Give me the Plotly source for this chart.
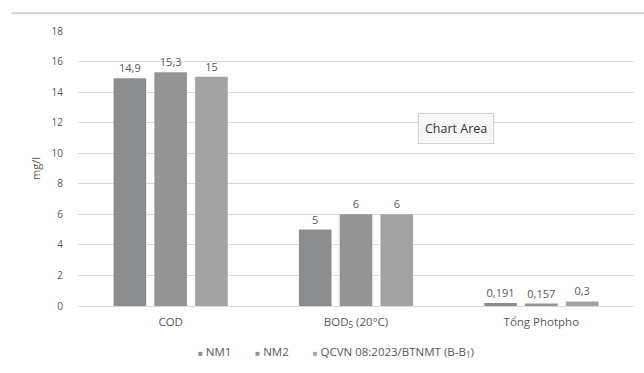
import plotly.graph_objects as go

# Water-quality parameters and measured values (mg/l)
categories = ["COD", "BOD<sub>5</sub> (20°C)", "Tổng Photpho"]
nm1 = [14.9, 5, 0.191]
nm2 = [15.3, 6, 0.157]
qcvn = [15, 6, 0.3]
series_names = ["NM1", "NM2", "QCVN 08:2023/BTNMT (B-B<sub>1</sub>)"]
series_colors = ["#8b8c8e", "#949495", "#a3a3a4"]
y_ticks = [0, 2, 4, 6, 8, 10, 12, 14, 16, 18]

FONT = "Open Sans, Lato, sans-serif"
TXT = "#595959"


def fmt(v):
    # decimal comma, as in Vietnamese notation
    return f"{v:g}".replace(".", ",")


fig = go.Figure()
for name, vals, col in zip(series_names, [nm1, nm2, qcvn], series_colors):
    fig.add_trace(go.Bar(
        x=categories, y=vals, name=name,
        marker=dict(color=col, line=dict(width=0)),
        text=[fmt(v) for v in vals],
        textposition="outside",
        textfont=dict(family=FONT, size=11, color=TXT),
        cliponaxis=False,
        showlegend=False,
    ))

fig.update_layout(
    width=644, height=373,
    margin=dict(l=78, r=10, t=31, b=67),
    paper_bgcolor="white", plot_bgcolor="white",
    font=dict(family=FONT, size=10, color=TXT),
    barmode="group", bargap=0.34, bargroupgap=0.2,
    xaxis=dict(showgrid=False, showline=True, linecolor="#d9d9d9", linewidth=1,
               ticks="", ticklabelstandoff=5, tickfont=dict(size=11.5, color=TXT)),
    yaxis=dict(range=[0, 18], tickvals=y_ticks, showgrid=True, gridcolor="#d9d9d9",
               gridwidth=1, zeroline=False, showline=False, ticks="",
               ticklabelstandoff=14, tickfont=dict(size=10, color=TXT),
               title=dict(text="mg/l", font=dict(size=11, color=TXT), standoff=8)),
)

# compact legend: small coloured squares followed by series names
legend_text = "        ".join(
    f'<span style="color:{c};font-size:8px">■</span> {n}'
    for n, c in zip(series_names, series_colors)
)
fig.add_annotation(xref="paper", yref="paper", x=0.464, y=-0.167,
                   xanchor="center", yanchor="middle", showarrow=False,
                   text=legend_text, font=dict(size=11.5, color=TXT))

# faint frame edge across the top of the chart
fig.add_shape(type="line", xref="paper", yref="paper",
              x0=-0.12, y0=1.065, x1=1.02, y1=1.065,
              line=dict(color="#d4d4d4", width=2))

# "Chart Area" hover hint
fig.add_annotation(xref="paper", yref="paper", x=0.68, y=0.647,
                   xanchor="center", yanchor="middle",
                   text="Chart Area", showarrow=False,
                   font=dict(size=12.5, color="#333333"),
                   bgcolor="#f7f7f7", bordercolor="#d0d0d0", borderwidth=1, borderpad=6)

fig.write_html("out.html")
